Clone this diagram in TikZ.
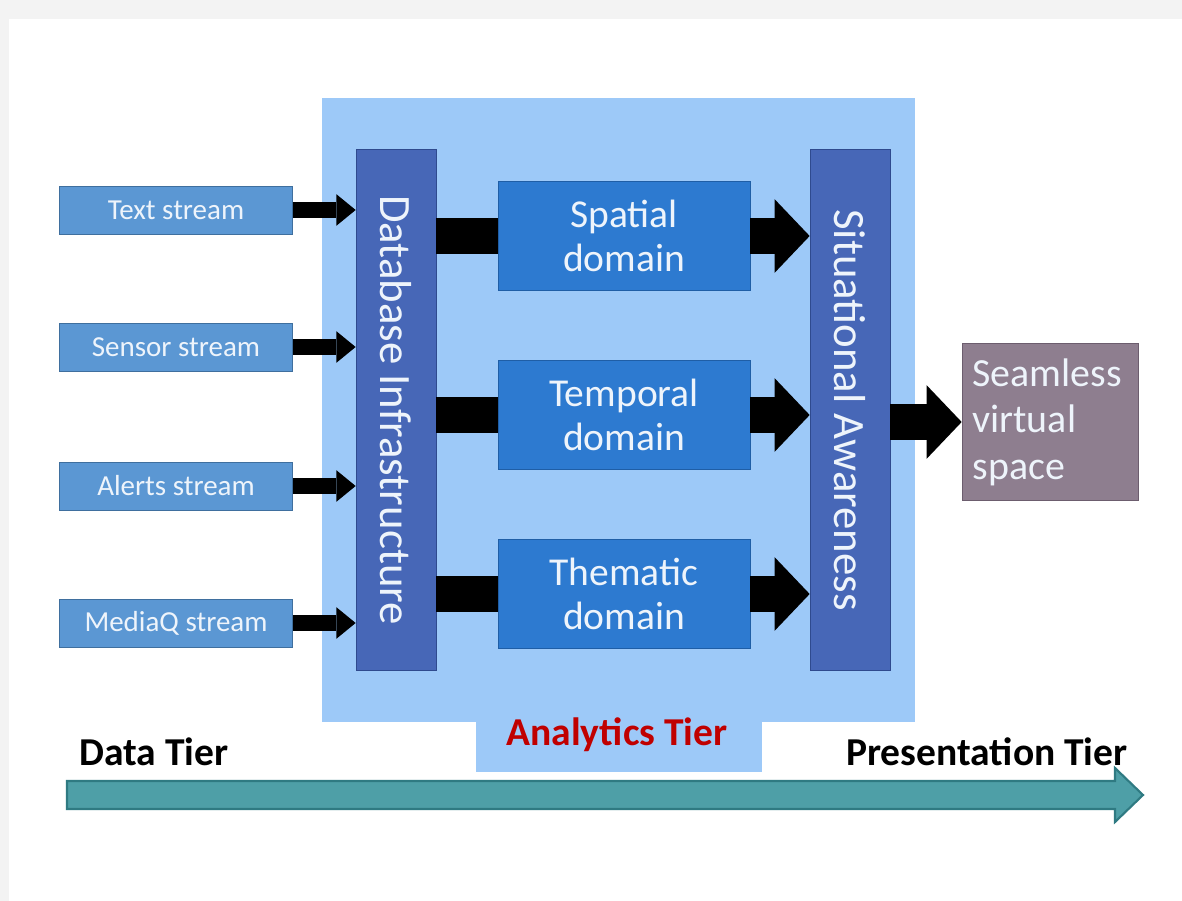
\documentclass[tikz,border=0pt]{standalone}
\usepackage{fontspec}
\setmainfont{Carlito}
\usepackage{graphicx}
\usetikzlibrary{arrows.meta}
\definecolor{Frame}{HTML}{F3F3F3}
\definecolor{Panel}{HTML}{9DC9F8}
\definecolor{Stream}{HTML}{5B97D3}
\definecolor{StreamEdge}{HTML}{3F6F9E}
\definecolor{Pillar}{HTML}{4767B7}
\definecolor{PillarEdge}{HTML}{2F4A8E}
\definecolor{Domain}{HTML}{2D7AD0}
\definecolor{DomainEdge}{HTML}{1F5EA6}
\definecolor{Mauve}{HTML}{8E7E8F}
\definecolor{MauveEdge}{HTML}{6C5D6E}
\definecolor{Teal}{HTML}{4E9FA7}
\definecolor{TealEdge}{HTML}{2F7A82}
\definecolor{Paper}{HTML}{EEF4FB}
\definecolor{TierRed}{HTML}{C00000}

\begin{document}
\begin{tikzpicture}[x=0.02cm,y=-0.02cm,
    stream/.style={draw=StreamEdge,fill=Stream,minimum width=4.66cm,minimum height=.96cm,inner sep=0pt,text=Paper,font=\fontsize{16.5}{19}\selectfont},
    pillar/.style={draw=PillarEdge,fill=Pillar,minimum width=1.6cm,minimum height=10.42cm,inner sep=0pt,text=Paper,font=\fontsize{25.5}{30}\selectfont},
    domainbox/.style={draw=DomainEdge,fill=Domain,minimum width=5.04cm,minimum height=2.18cm,inner sep=0pt,align=center,text=Paper,font=\fontsize{22.5}{25.5}\selectfont},
    seam/.style={draw=MauveEdge,fill=Mauve,minimum width=3.52cm,minimum height=3.14cm,inner xsep=.2cm,text width=3.1cm,align=left,text=Paper,font=\fontsize{22.7}{26.5}\selectfont},
    tier/.style={font=\bfseries\fontsize{22.5}{26}\selectfont},
    smallarr/.style={-{Triangle[length=11pt,width=18pt,line width=0pt]},line width=9pt,draw=black},
    feed/.style={line width=20pt,draw=black},
    bigarr/.style={-{Triangle[length=20pt,width=42pt,line width=0pt]},line width=20pt,draw=black}
  ]
    \useasboundingbox (0,0) rectangle (1182,901);
    \fill[Frame] (0,0) rectangle (1182,901);
    \fill[white] (9,19) rectangle (1182,901);
    % analytics tier backdrop
    \fill[Panel] (322,98) rectangle (915,722);
    \fill[Panel] (476,722) rectangle (762,772);
    \node[tier,text=TierRed] (at) at (617,735) {Analytics Tier};
    % data streams
    \node[stream] (txt) at (176,210) {Text stream};
    \node[stream] (sen) at (176,347) {Sensor stream};
    \node[stream] (alr) at (176,486) {Alerts stream};
    \node[stream] (mq) at (176,623) {MediaQ stream};
    \node[pillar] (db) at (396,410) {\rotatebox{-90}{Database Infrastructure}};
    \node[domainbox] (sp) at (624,236) {Spatial\\domain};
    \node[domainbox] (tp) at (624,415) {Temporal\\domain};
    \node[domainbox] (th) at (624,594) {Thematic\\domain};
    \node[pillar] (sa) at (850,410) {\rotatebox{-90}{Situational Awareness}};
    \node[seam] (sv) at (1050,422) {Seamless\\virtual\\space};
    \draw[smallarr] (txt.east) -- (db.west |- txt.east);
    \draw[smallarr] (sen.east) -- (db.west |- sen.east);
    \draw[smallarr] (alr.east) -- (db.west |- alr.east);
    \draw[smallarr] (mq.east) -- (db.west |- mq.east);
    \draw[feed] (db.east |- sp.west) -- (sp.west);
    \draw[feed] (db.east |- tp.west) -- (tp.west);
    \draw[feed] (db.east |- th.west) -- (th.west);
    \draw[bigarr] (sp.east) -- (sa.west |- sp.east);
    \draw[bigarr] (tp.east) -- (sa.west |- tp.east);
    \draw[bigarr] (th.east) -- (sa.west |- th.east);
    \draw[bigarr] (sa.east |- sv.west) -- (sv.west);
    % tier axis
    \node[tier] (dt) at (154,752) {Data Tier};
    \node[tier] (pt) at (987,752) {Presentation Tier};
    \filldraw[fill=Teal,draw=TealEdge,line width=1.2pt] (67,781) -- (1115,781) -- (1115,768) -- (1143,795) -- (1115,822) -- (1115,809) -- (67,809) -- cycle;
\end{tikzpicture}
\end{document}
